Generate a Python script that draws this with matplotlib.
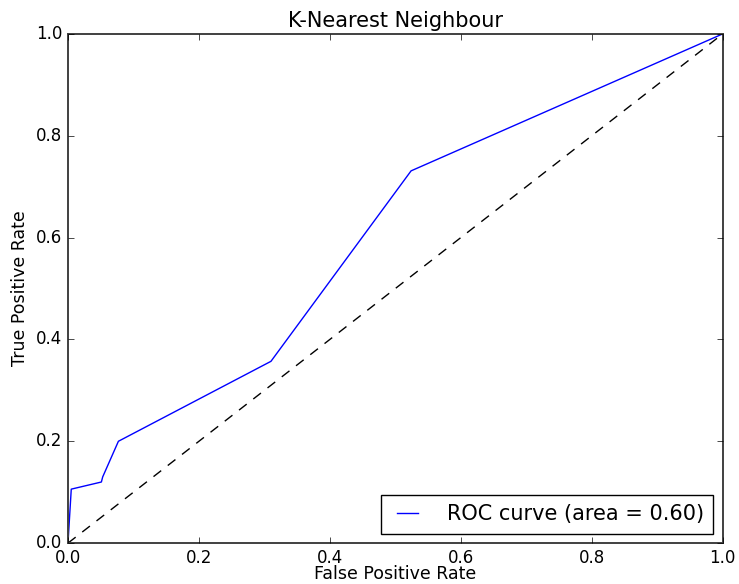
import matplotlib
matplotlib.use("Agg")
import matplotlib.pyplot as plt

plt.style.use('classic')

# ROC points
fpr = [0.0, 0.0, 0.005, 0.051, 0.053, 0.077, 0.31, 0.524, 1.0]
tpr = [0.0, 0.0, 0.106, 0.12, 0.13, 0.20, 0.357, 0.731, 1.0]
roc_auc = 0.60

fig = plt.figure(figsize=(7.39, 5.84), dpi=100, facecolor='white')
ax = fig.add_axes([0.092, 0.070, 0.886, 0.872])

ax.plot(fpr, tpr, color='b', label='ROC curve (area = %0.2f)' % roc_auc)
ax.plot([0, 1], [0, 1], 'k--', dashes=(7, 6))
ax.set_xlim([0.0, 1.0])
ax.set_ylim([0.0, 1.0])
ax.set_xlabel('False Positive Rate', fontsize=12.5)
ax.set_ylabel('True Positive Rate', fontsize=12.5)
ax.xaxis.set_label_coords(0.5, -0.043)
ax.yaxis.set_label_coords(-0.060, 0.5)
ax.set_title('K-Nearest Neighbour', fontsize=15)
for sp in ax.spines.values():
    sp.set_linewidth(1.4)
    sp.set_color('#404040')
ax.legend(loc="lower right", fontsize=15, borderpad=0.45,
          handlelength=1.6, handletextpad=1.1, borderaxespad=0.45)

fig.savefig('out.png', dpi=100, facecolor='white')
